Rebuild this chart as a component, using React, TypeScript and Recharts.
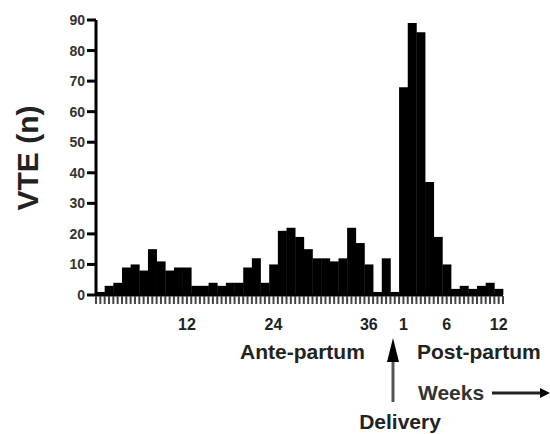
import React from "react";
import { BarChart, Bar, XAxis, YAxis } from "recharts";

// VTE counts per week
const antepartum = [
  1, 3, 4, 9, 10, 8, 15, 11, 8, 9, 9, 3, 3, 4, 3, 4, 4, 9, 12, 4, 10, 21, 22,
  19, 15, 12, 12, 11, 12, 22, 17, 10, 1, 12, 1,
];
const postpartum = [68, 89, 86, 37, 19, 10, 2, 3, 2, 3, 4, 2];

const yTicks = [0, 10, 20, 30, 40, 50, 60, 70, 80, 90];

// which bars get a week number underneath
const weekLabels: Record<string, string> = {
  a11: "12",
  a21: "24",
  a32: "36",
  p1: "1",
  p6: "6",
  p12: "12",
};

const data = [
  ...antepartum.map((n, i) => ({ week: `a${i + 1}`, vte: n })),
  ...postpartum.map((n, i) => ({ week: `p${i + 1}`, vte: n })),
];

const FONT = "'Liberation Sans', Arial, Helvetica, sans-serif";

// two little tick marks per bar (edge + middle) and the week number if it has one
function WeekTick(props: any) {
  const { x, y, payload, index, visibleTicksCount } = props;
  const half = payload.offset ?? 0;
  const label = weekLabels[payload.value];
  const mark = (mx: number) => (
    <line x1={mx} x2={mx} y1={y + 1} y2={y + 9} stroke="#444" strokeWidth={2} />
  );
  return (
    <g>
      {mark(x - half)}
      {mark(x)}
      {index === visibleTicksCount - 1 && mark(x + half)}
      {label && (
        <text
          x={x}
          y={y + 35}
          textAnchor="middle"
          fill="#222"
          fontSize={16}
          fontWeight={700}
          fontFamily={FONT}
        >
          {label}
        </text>
      )}
    </g>
  );
}

export default function App() {
  return (
    <div
      style={{
        position: "absolute",
        left: 0,
        top: 0,
        width: 550,
        height: 434,
        background: "#fff",
        fontFamily: FONT,
      }}
    >
      <BarChart
        width={550}
        height={434}
        data={data}
        margin={{ top: 20, right: 47, bottom: 99, left: 0 }}
        barCategoryGap={0}
        barGap={0}
      >
        <XAxis
          dataKey="week"
          interval={0}
          tickLine={false}
          tickSize={0}
          tickMargin={0}
          height={40}
          stroke="#000"
          strokeWidth={3}
          tick={<WeekTick />}
        />
        <YAxis
          domain={[0, 90]}
          ticks={yTicks}
          interval={0}
          width={96}
          tickSize={9}
          tickMargin={2}
          stroke="#000"
          strokeWidth={3}
          tick={{ fill: "#333", fontSize: 14, fontWeight: 700, fontFamily: FONT }}
        />
        <Bar dataKey="vte" fill="#000" isAnimationActive={false} />
      </BarChart>

      {/* annotations */}
      <svg
        width={550}
        height={434}
        style={{ position: "absolute", left: 0, top: 0, pointerEvents: "none" }}
        fontFamily={FONT}
        fontWeight={700}
      >
        <text
          transform="translate(38,158) rotate(-90)"
          textAnchor="middle"
          fontSize={30}
          fill="#222"
        >
          VTE (n)
        </text>
        <text x={240} y={359} fontSize={21} fill="#222">
          Ante-partum
        </text>
        <text x={417} y={359} fontSize={21} fill="#222">
          Post-partum
        </text>
        <polygon points="393,338 387,362 399,362" fill="#000" />
        <line x1={393} y1={362} x2={393} y2={402} stroke="#555" strokeWidth={3} />
        <text x={418} y={400} fontSize={21} fill="#333">
          Weeks
        </text>
        <line x1={492} y1={393} x2={542} y2={393} stroke="#222" strokeWidth={3} />
        <polygon points="550,393 540,388 540,398" fill="#000" />
        <text x={400} y={429} textAnchor="middle" fontSize={21} fill="#222">
          Delivery
        </text>
      </svg>
    </div>
  );
}
